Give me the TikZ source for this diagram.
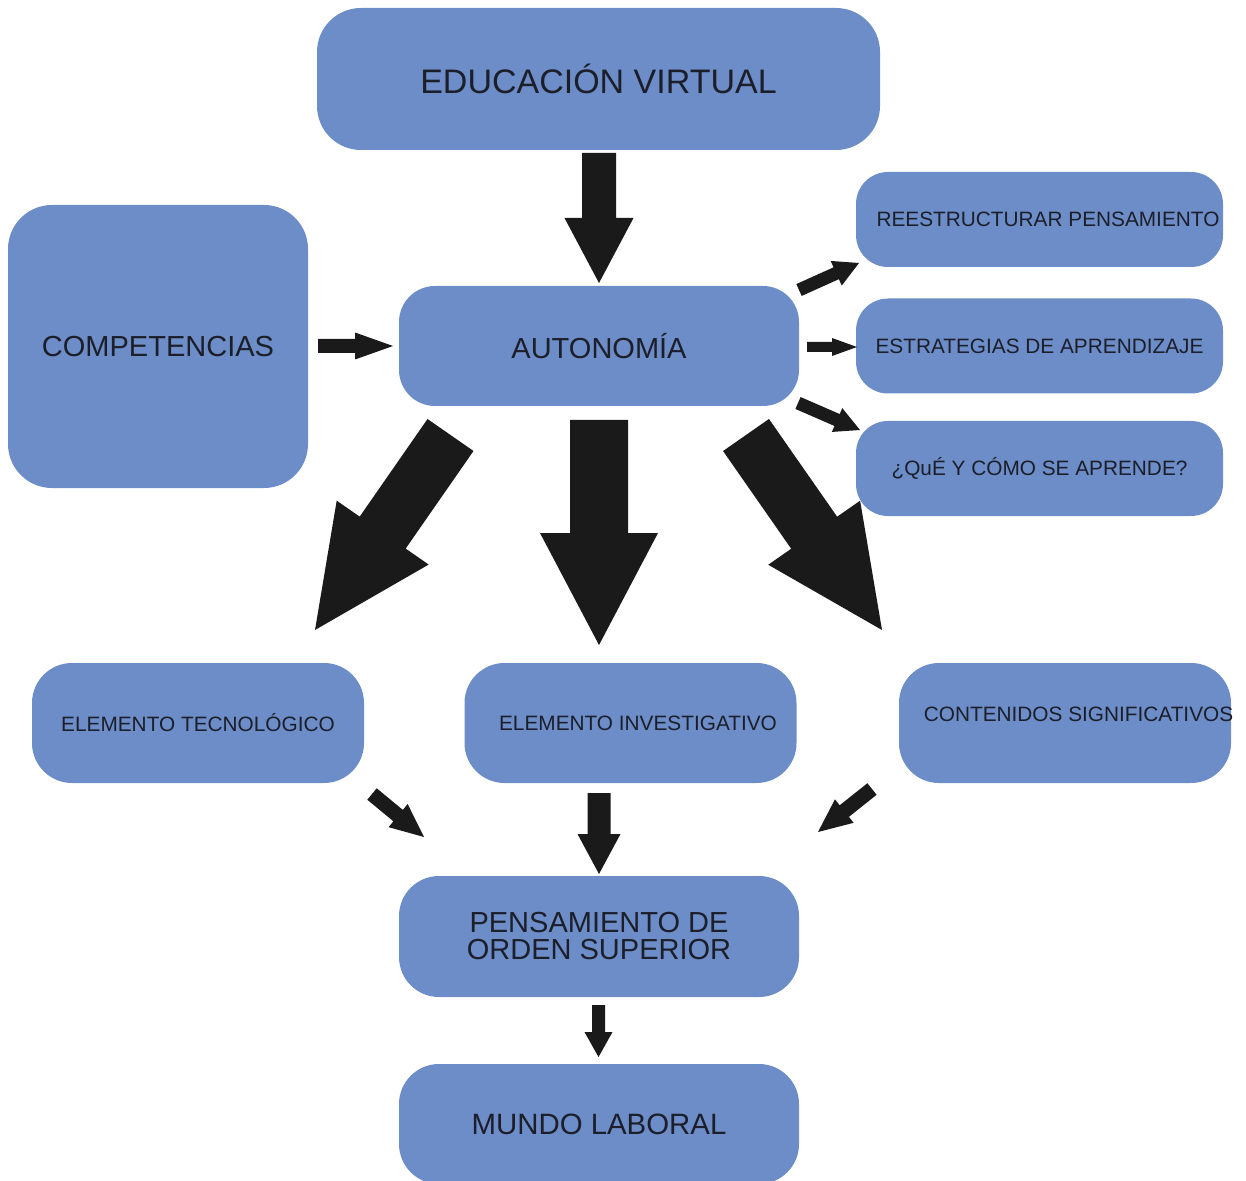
\documentclass[tikz,border=0pt]{standalone}
\usepackage{fontspec}
\setmainfont{Liberation Sans}
\usetikzlibrary{calc}
\definecolor{cajaazul}{RGB}{108,141,199}
\definecolor{textoazul}{RGB}{28,30,42}
\definecolor{flechanegra}{RGB}{26,26,26}
% block arrow: from, to, half shaft, half head, head length
\newcommand{\flecha}[5]{%
  \coordinate (hb) at ($(#2)!#5!(#1)$);
  \fill[flechanegra] ($(#1)!#3!90:(#2)$) -- ($(hb)!#3!90:(#2)$) -- ($(hb)!#4!90:(#2)$) -- (#2)
    -- ($(hb)!#4!-90:(#2)$) -- ($(hb)!#3!-90:(#2)$) -- ($(#1)!#3!-90:(#2)$) -- cycle;
}

\begin{document}
\begin{tikzpicture}[x=0.5pt,y=-0.5pt,
  caja/.style={fill=cajaazul,inner sep=0pt,outer sep=0pt,text=textoazul,align=center},
  grande/.style={caja,rounded corners=22pt,font=\fontsize{14.5}{13.5}\selectfont},
  chica/.style={caja,rounded corners=16pt,minimum width=183.5pt,minimum height=47.5pt,font=\fontsize{10.4}{12}\selectfont},
  media/.style={caja,rounded corners=20pt,minimum width=166pt,minimum height=60pt,font=\fontsize{10.4}{12}\selectfont},
  rotulo/.style={text=textoazul,font=\fontsize{10.4}{12}\selectfont}]
\useasboundingbox (0,0) rectangle (1246,1181);
\clip (0,0) rectangle (1246,1181);
%% cajas
\node[grande,minimum width=281.5pt,minimum height=71pt,font=\fontsize{17}{20}\selectfont] (edu) at (598.5,79) {EDUCACIÓN VIRTUAL};
\node[grande,minimum width=150pt,minimum height=141.5pt] (comp) at (158,346.5) {COMPETENCIAS};
\node[grande,rounded corners=18pt,minimum width=200pt,minimum height=60pt] (auto) at (599,346) {AUTONOMÍA};
\node[chica,label={[rotulo,xshift=4.25pt]center:REESTRUCTURAR PENSAMIENTO}] (reest) at (1039.5,219.5) {};
\node[chica] (estr) at (1039.5,346) {ESTRATEGIAS DE APRENDIZAJE};
\node[chica] (que) at (1039.5,468.5) {¿QuÉ Y CÓMO SE APRENDE?};
\node[media] (tec) at (198,723) {ELEMENTO TECNOLÓGICO};
\node[media,label={[rotulo,xshift=3.75pt]center:ELEMENTO INVESTIGATIVO}] (inv) at (630.5,723) {};
\node[media,label={[rotulo,xshift=6.75pt,yshift=4.5pt]center:CONTENIDOS SIGNIFICATIVOS}] (cont) at (1065,723) {};
\node[grande,rounded corners=20pt,minimum width=200pt,minimum height=60.5pt] (pens) at (599,936.5) {PENSAMIENTO DE\\ORDEN SUPERIOR};
\node[grande,rounded corners=20pt,minimum width=200pt,minimum height=60pt,font=\fontsize{14.7}{16}\selectfont] (mundo) at (599,1124) {MUNDO LABORAL};
%% extremos de las flechas
\coordinate (eduI) at (599,153);     \coordinate (eduF) at (599,283);
\coordinate (compI) at (318,346);    \coordinate (compF) at (393,346);
\coordinate (reestI) at (799,290);   \coordinate (reestF) at (859,263);
\coordinate (estrI) at (807,347);    \coordinate (estrF) at (857,347);
\coordinate (queI) at (798,403);     \coordinate (queF) at (860,430);
\coordinate (tecI) at (450.5,435);   \coordinate (tecF) at (315,630);
\coordinate (invI) at (599,420);     \coordinate (invF) at (599,645);
\coordinate (contI) at (746,435);    \coordinate (contF) at (882,630);
\coordinate (tpI) at (372,794);      \coordinate (tpF) at (424,837);
\coordinate (ipI) at (599,793);      \coordinate (ipF) at (599,874);
\coordinate (cpI) at (872,789);      \coordinate (cpF) at (818,832);
\coordinate (pmI) at (598.5,1005);   \coordinate (pmF) at (598.5,1057);
%% flechas
\flecha{eduI}{eduF}{8.5pt}{17.25pt}{32.5pt}
\flecha{compI}{compF}{3.5pt}{6.75pt}{19pt}
\flecha{reestI}{reestF}{3.25pt}{6.75pt}{12.5pt}
\flecha{estrI}{estrF}{2.5pt}{4.5pt}{12.5pt}
\flecha{queI}{queF}{3.25pt}{6.5pt}{12.5pt}
\flecha{tecI}{tecF}{14pt}{28pt}{59.3pt}
\flecha{invI}{invF}{14.5pt}{29.5pt}{56pt}
\flecha{contI}{contF}{14pt}{28pt}{59.3pt}
\flecha{tpI}{tpF}{3.7pt}{7.5pt}{16.8pt}
\flecha{ipI}{ipF}{5.75pt}{10.75pt}{20pt}
\flecha{cpI}{cpF}{3.7pt}{7.5pt}{16.8pt}
\flecha{pmI}{pmF}{3.25pt}{7pt}{12.5pt}
\end{tikzpicture}
\end{document}
